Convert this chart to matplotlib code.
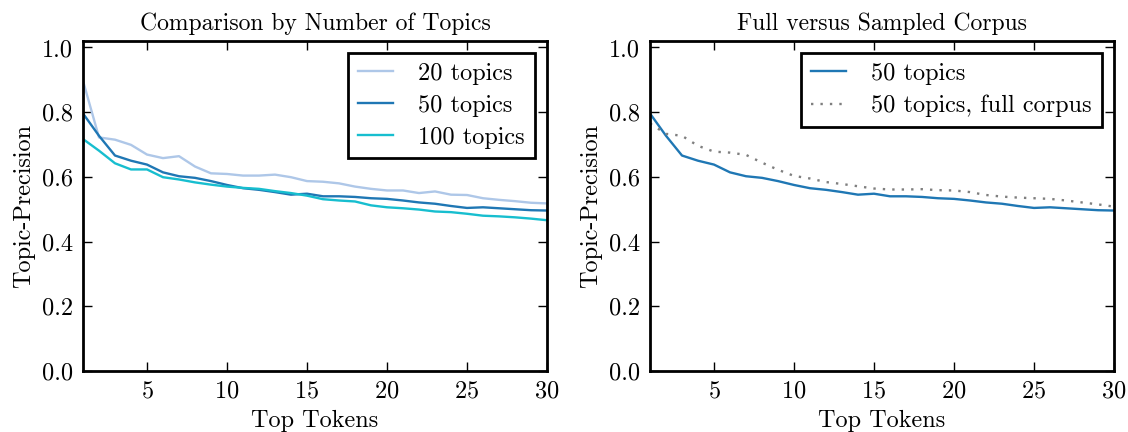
import matplotlib
matplotlib.use("Agg")
import matplotlib.pyplot as plt

plt.rcParams["font.family"] = ["cmr10", "DejaVu Serif"]
plt.rcParams["axes.formatter.use_mathtext"] = True
plt.rcParams["font.size"] = 17.5

tokens = list(range(1, 31))

topics_20 = [0.897, 0.722, 0.715, 0.699, 0.669, 0.658, 0.664, 0.632, 0.611, 0.609,
             0.604, 0.604, 0.607, 0.599, 0.587, 0.585, 0.580, 0.570, 0.563, 0.558,
             0.558, 0.550, 0.555, 0.545, 0.544, 0.534, 0.529, 0.525, 0.520, 0.518]
topics_50 = [0.796, 0.727, 0.666, 0.650, 0.638, 0.614, 0.602, 0.597, 0.587, 0.575,
             0.565, 0.560, 0.553, 0.545, 0.548, 0.540, 0.540, 0.538, 0.534, 0.532,
             0.527, 0.521, 0.517, 0.510, 0.504, 0.506, 0.503, 0.500, 0.497, 0.496]
topics_100 = [0.717, 0.681, 0.642, 0.623, 0.623, 0.599, 0.592, 0.583, 0.576, 0.570,
              0.566, 0.563, 0.556, 0.550, 0.542, 0.531, 0.527, 0.524, 0.512, 0.506,
              0.503, 0.499, 0.493, 0.491, 0.486, 0.480, 0.478, 0.475, 0.471, 0.466]
topics_50_full = [0.765, 0.733, 0.727, 0.696, 0.678, 0.675, 0.668, 0.644, 0.622, 0.603,
                  0.595, 0.584, 0.578, 0.571, 0.564, 0.561, 0.561, 0.562, 0.559, 0.558,
                  0.553, 0.544, 0.539, 0.536, 0.534, 0.532, 0.527, 0.521, 0.515, 0.508]

fig = plt.figure(figsize=(11.28, 4.32), dpi=100)
ax1 = fig.add_axes([83 / 1128, 61 / 432, 464 / 1128, 330 / 432])
ax2 = fig.add_axes([650 / 1128, 61 / 432, 464 / 1128, 330 / 432])

ax1.plot(tokens, topics_20, color="#aec7e8", lw=1.7, label="20 topics")
ax1.plot(tokens, topics_50, color="#1f77b4", lw=1.7, label="50 topics")
ax1.plot(tokens, topics_100, color="#17becf", lw=1.7, label="100 topics")
ax1.set_title("Comparison by Number of Topics", fontsize=17, pad=8)

ax2.plot(tokens, topics_50, color="#1f77b4", lw=1.7, label="50 topics")
ax2.plot(tokens, topics_50_full, color="#7f7f7f", lw=1.7, ls=(0, (1, 3)),
         label="50 topics, full corpus")
ax2.set_title("Full versus Sampled Corpus", fontsize=17, pad=8)

for ax in (ax1, ax2):
    ax.set_xlim(1, 30)
    ax.set_ylim(0, 1.02)
    ax.set_xticks([5, 10, 15, 20, 25, 30])
    ax.set_yticks([0.0, 0.2, 0.4, 0.6, 0.8, 1.0])
    ax.set_yticklabels(["0.0", "0.2", "0.4", "0.6", "0.8", "1.0"])
    ax.tick_params(direction="in", top=True, right=True, length=6.5, width=1, pad=7)
    for s in ax.spines.values():
        s.set_linewidth(2)
    ax.set_xlabel("Top Tokens", labelpad=5)
    ax.set_ylabel("Topic-Precision", labelpad=5)
    leg = ax.legend(loc="upper right", fancybox=False, framealpha=1,
                    edgecolor="black", handlelength=1.45, handletextpad=1.05,
                    borderpad=0.4, labelspacing=0.4, borderaxespad=0.5)
    leg.get_frame().set_linewidth(2)

fig.savefig("out.png", dpi=100)
